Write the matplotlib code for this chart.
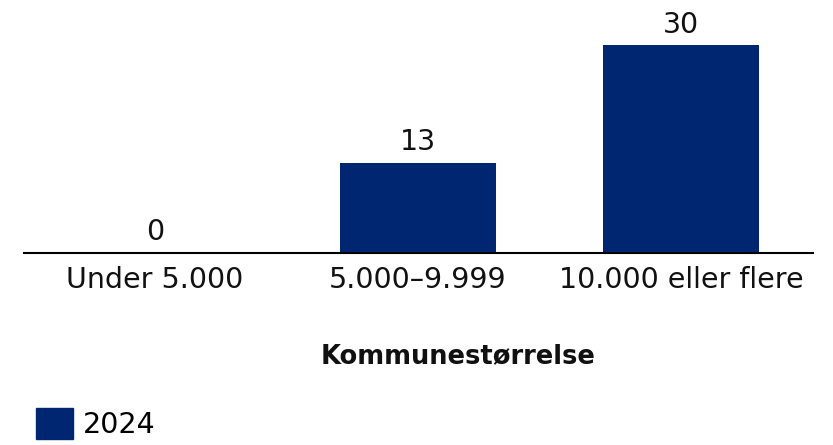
import matplotlib
matplotlib.use("Agg")
import matplotlib.pyplot as plt
from matplotlib.patches import Patch

categories = ["Under 5.000", "5.000–9.999", "10.000 eller flere"]
values_2024 = [0, 13, 30]
series_name = "2024"
xlabel = "Kommunestørrelse"
color = "#002672"

plt.rcParams['font.family'] = ['DejaVu Sans']
FS = 20.5

W, H = 833, 445
fig = plt.figure(figsize=(W/100, H/100), dpi=100)
left, right = 23.5/W, 812.5/W
bottom = 1 - 252.5/H
top = 1 - 10/H
ax = fig.add_axes([left, bottom, right-left, top-bottom])

x = range(len(categories))
bars = ax.bar(x, values_2024, width=156/263, color=color)
ax.set_xlim(-0.5, 2.5)
scale = 30 / (252.5 - 45)
ax.set_ylim(0, (252.5 - 10) * scale)
for xi, v in zip(x, values_2024):
    ax.annotate(str(v), (xi, v), xytext=(0, 4.5), textcoords="offset points",
                ha="center", va="bottom", fontsize=FS, color="#111111")

ax.set_xticks(list(x))
ax.set_xticklabels(categories, fontsize=FS, color="#111111")
ax.tick_params(axis='x', length=0, pad=10)
ax.set_yticks([])
for s in ["top", "right", "left"]:
    ax.spines[s].set_visible(False)
ax.spines["bottom"].set_linewidth(1.5)
ax.spines["bottom"].set_color("#000000")

fig.text(458/W, 1 - 356/H, xlabel, ha="center", va="center",
         fontsize=18.5, fontweight="bold", color="#111111")

leg = fig.legend(handles=[Patch(color=color, label=series_name)],
                 loc="lower left", bbox_to_anchor=(25/W, -5/H),
                 frameon=False, fontsize=FS, handlelength=1.3, handleheight=1.3,
                 handletextpad=0.35, borderaxespad=0.0)

fig.savefig("out.png", dpi=100)
